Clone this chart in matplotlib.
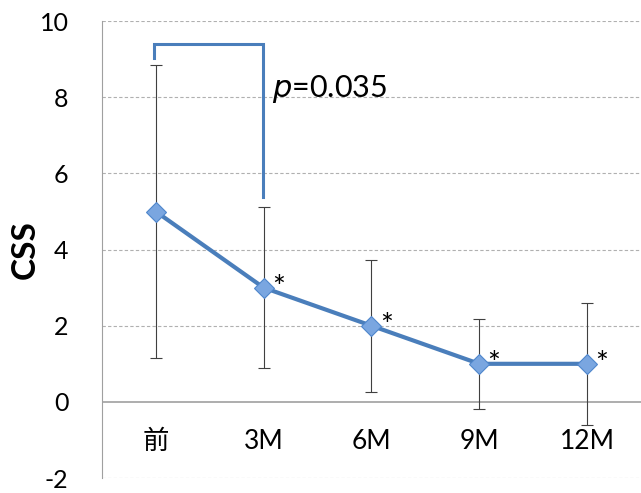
import matplotlib
matplotlib.use("Agg")
import matplotlib.pyplot as plt
import numpy as np

plt.rcParams['font.family'] = ['Lato', 'Noto Sans CJK JP', 'DejaVu Sans']
plt.rcParams['axes.unicode_minus'] = False

# Data
periods = ["前", "3M", "6M", "9M", "12M"]
css_mean = [5.0, 3.0, 2.0, 1.0, 1.0]
css_sd = [3.85, 2.12, 1.73, 1.18, 1.6]
significant = [False, True, True, True, True]
p_label = "0.035"
bracket_top = 9.4
bracket_left_end = 9.03
bracket_right_end = 5.38

fig = plt.figure(figsize=(6.41, 4.93), dpi=100)
ax = fig.add_axes([0.159, 0.0304, 0.841, 0.9266])

x = np.arange(len(periods))
line_color = "#4a7ebb"

# Grid lines
for yv in [-2, 2, 4, 6, 8, 10]:
    ax.axhline(yv, color="#b0b0b0", lw=0.8, ls=(0, (3, 2)), zorder=0)
ax.axhline(0, color="#a0a0a0", lw=1.2, zorder=1)

ax.errorbar(x, css_mean, yerr=css_sd, fmt="none", ecolor="#404040",
            elinewidth=0.8, capsize=4, capthick=0.8, zorder=2)
ax.plot(x, css_mean, color=line_color, lw=3, zorder=3)
ax.plot(x, css_mean, ls="none", marker="D", markersize=10,
        markerfacecolor="#7aa6e0", markeredgecolor="#4f86cc",
        markeredgewidth=0.8, zorder=4)

for xi, yi, sig in zip(x, css_mean, significant):
    if sig:
        ax.annotate("*", (xi, yi), xytext=(6, -10), textcoords="offset points",
                    fontsize=22, ha="left", va="bottom", color="black")

# Significance bracket between baseline and 3M
ax.plot([-0.02, -0.02, 0.99, 0.99],
        [bracket_left_end, bracket_top, bracket_top, bracket_right_end],
        color="#4a7ebb", lw=2.2, solid_joinstyle="miter", zorder=3)
ax.text(1.08, 8.23, r"$\it{p}$" + "=" + p_label, fontsize=22,
        ha="left", va="center")

ax.set_xlim(-0.5, 4.5)
ax.set_ylim(-2, 10)
ax.set_yticks([-2, 0, 2, 4, 6, 8, 10])
ax.set_xticks([])
ax.tick_params(axis="y", length=0, pad=24, labelsize=18)

for xi, name in zip(x, periods):
    ax.text(xi, -1.05, name, fontsize=19, ha="center", va="center")

for side in ["top", "right", "bottom"]:
    ax.spines[side].set_visible(False)
ax.spines["left"].set_color("#a0a0a0")
ax.spines["left"].set_linewidth(0.8)

fig.text(0.04, 0.493, "CSS", rotation=90, fontsize=24, fontweight="bold",
         ha="center", va="center")

fig.savefig("out.png", dpi=100)
